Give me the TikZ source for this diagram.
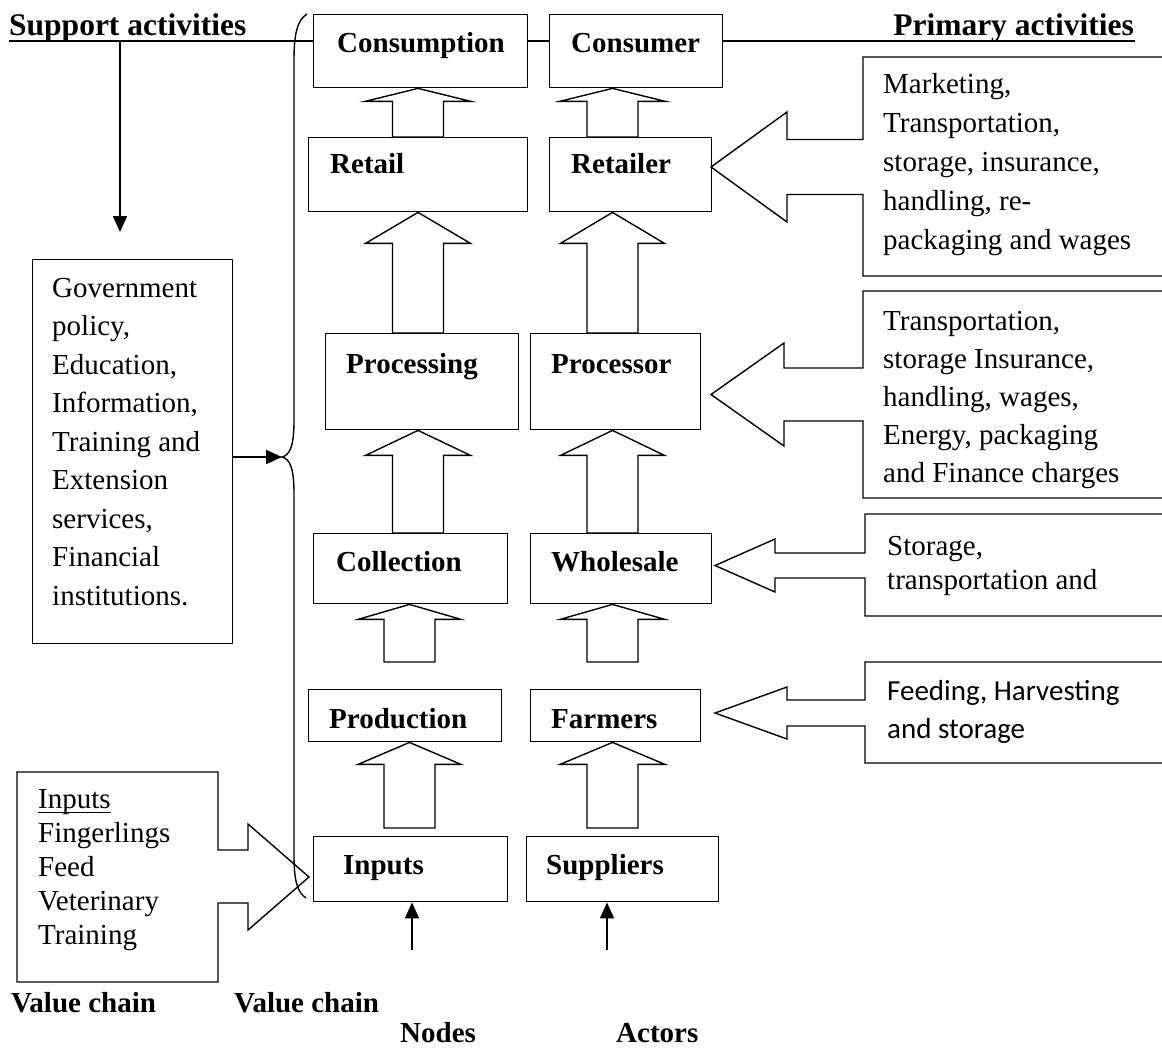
\documentclass[tikz,border=0pt]{standalone}
\usepackage{fontspec}
\setmainfont{Liberation Serif}
\newfontfamily\calfont{Carlito}
\usetikzlibrary{arrows.meta,calc}
\tikzset{
  box/.style={draw, line width=1.4pt, inner sep=0pt, anchor=north west},
  lbl/.style={font=\fontsize{29}{35}\selectfont\bfseries, anchor=base west, inner sep=0pt},
  head/.style={font=\fontsize{31.5}{36}\selectfont\bfseries, inner sep=0pt},
  txt/.style={font=\fontsize{29}{35}\selectfont, anchor=base west, inner sep=0pt},
  ctxt/.style={font=\fontsize{29}{35}\selectfont\calfont, anchor=base west, inner sep=0pt},
  blk/.style={draw, line width=1.4pt, line join=miter},
  arr/.style={line width=1.7pt, -{Triangle[length=16pt,width=14pt]}},
  topline/.style={line width=2.6pt},
}
% block arrow pointing up from lower node to upper node
\newcommand\blockup[7]{%
  \draw[blk] let \p1=(#1.south), \p2=(#2.north) in
    (#3pt,\y1) -- ({#3pt+#5pt},{\y1-#4pt}) -- ({#3pt+#6pt},{\y1-#4pt})
    -- ({#3pt+#6pt},{\y2+#7pt}) -- ({#3pt-#6pt},{\y2+#7pt})
    -- ({#3pt-#6pt},{\y1-#4pt}) -- ({#3pt-#5pt},{\y1-#4pt}) -- cycle;}
% callout box on the right with a block arrow pointing left
\newcommand\calloutleft[8]{%
  \draw[blk] (1162,#7) -- (#6,#7) -- (#6,{#2-#5}) -- (#3,{#2-#5}) -- (#3,{#2-#4})
    -- (#1,#2) -- (#3,{#2+#4}) -- (#3,{#2+#5}) -- (#6,{#2+#5}) -- (#6,#8) -- (1162,#8);}
\begin{document}
\begin{tikzpicture}[x=1pt,y=-1pt]
\useasboundingbox (0,0) rectangle (1162,1050);

% ---------- value chain node boxes ----------
\node[box, minimum width=214pt, minimum height=73pt] (cons) at (313,14) {};
\node[box, minimum width=219pt, minimum height=74pt] (retail) at (308,137) {};
\node[box, minimum width=193pt, minimum height=96pt] (proc) at (325,333) {};
\node[box, minimum width=194pt, minimum height=70pt] (coll) at (313,533) {};
\node[box, minimum width=193pt, minimum height=52pt] (prod) at (308,689) {};
\node[box, minimum width=194pt, minimum height=65pt] (inp) at (313,836) {};
% ---------- actor boxes ----------
\node[box, minimum width=173pt, minimum height=73pt] (consr) at (549,14) {};
\node[box, minimum width=162pt, minimum height=74pt] (retailer) at (549,137) {};
\node[box, minimum width=170pt, minimum height=96pt] (procr) at (530,333) {};
\node[box, minimum width=181pt, minimum height=70pt] (whole) at (530,533) {};
\node[box, minimum width=170pt, minimum height=52pt] (farm) at (530,689) {};
\node[box, minimum width=192pt, minimum height=65pt] (supp) at (526,836) {};

% ---------- box labels ----------
\node[lbl] (l-cons) at (337,52) {Consumption};
\node[lbl] (l-retail) at (330,173) {Retail};
\node[lbl] (l-proc) at (346,373) {Processing};
\node[lbl] (l-coll) at (336,571) {Collection};
\node[lbl] (l-prod) at (329,728) {Production};
\node[lbl] (l-inp) at (343,874) {Inputs};
\node[lbl] (l-consr) at (571,52) {Consumer};
\node[lbl] (l-retailer) at (571,173) {Retailer};
\node[lbl] (l-procr) at (551,373) {Processor};
\node[lbl] (l-whole) at (551,571) {Wholesale};
\node[lbl] (l-farm) at (551,728) {Farmers};
\node[lbl] (l-supp) at (546,874) {Suppliers};

% ---------- block arrows between rows ----------
\blockup{cons}{retail}{418}{13}{53}{25.5}{0}
\blockup{consr}{retailer}{612.5}{13}{53}{25.5}{0}
\blockup{retail}{proc}{418}{31}{52.5}{25.5}{0}
\blockup{retailer}{procr}{612.5}{31}{52}{25.5}{0}
\blockup{proc}{coll}{418}{25}{52.5}{25.5}{0}
\blockup{procr}{whole}{612.5}{25}{52}{25.5}{0}
\blockup{coll}{prod}{409.5}{15}{51.5}{25.5}{27}
\blockup{whole}{farm}{612.5}{15}{52.5}{25.5}{27}
\blockup{prod}{inp}{409.5}{22}{51.5}{25.5}{8}
\blockup{farm}{supp}{612.5}{22}{52.5}{25.5}{8}

% ---------- top line and headings ----------
\node[head, anchor=base west] (tsup) at (9,35) {Support activities};
\node[head, anchor=base east] (tprim) at (1134,35) {Primary activities};
\coordinate (sa) at (120,41);
\coordinate (tl0) at (9,41);
\coordinate (tl1) at (1135,41);
\draw[topline] (tl0) -- (tl0 -| cons.west);
\draw[topline] (tl0 -| cons.east) -- (tl0 -| consr.west);
\draw[topline] (tl0 -| consr.east) -- (tl1);
\coordinate (sb) at (120,232);
\draw[arr] (sa) -- (sb);

% ---------- support activities box ----------
\node[box, minimum width=200pt, minimum height=384pt] (gov) at (32,259) {};
\foreach \t [count=\i from 0] in {Government,{policy,},{Education,},{Information,},Training and,Extension,{services,},Financial,institutions.}
  \node[txt] (gov\i) at (52,{297+38.5*\i}) {\t};

% ---------- brace ----------
\coordinate (bt) at (282,457);
\coordinate (btop) at (307,14);
\coordinate (bbot) at (306,898);
\draw[line width=1.4pt] (btop) .. controls (297,20) and (294,35) .. (294,60)
  -- (294,420) .. controls (294,446) and (290,455) .. (bt)
  .. controls (290,459) and (294,468) .. (294,494)
  -- (294,855) .. controls (294,880) and (297,892) .. (bbot);
\draw[arr] (gov.east |- bt) -- (bt);

% ---------- right callouts ----------
\calloutleft{711}{167}{787}{55}{27.5}{863}{57}{276}
\foreach \t [count=\i from 0] in {{Marketing,},{Transportation,},{storage, insurance,},{handling, re-},packaging and wages}
  \node[txt] (rt\i) at (883,{93+39*\i}) {\t};

\calloutleft{711}{394.5}{784}{51.5}{26.5}{863}{291}{498}
\foreach \t [count=\i from 0] in {{Transportation,},{storage Insurance,},{handling, wages,},{Energy, packaging},and Finance charges}
  \node[txt] (pt\i) at (883,{330+38*\i}) {\t};

\calloutleft{715}{565.5}{775}{26.5}{12.5}{865}{514}{616}
\node[txt] (wt0) at (887,555) {Storage,};
\node[txt] (wt1) at (887,589) {transportation and};

\calloutleft{715}{713}{787}{26}{13}{865}{662}{763}
\node[ctxt] (ft0) at (887,700) {Feeding, Harvesting};
\node[ctxt] (ft1) at (887,738) {and storage};

% ---------- inputs callout on the left ----------
\draw[blk] (218,850) -- (218,772) -- (17,772) -- (17,982) -- (218,982) -- (218,903)
  -- (248,903) -- (248,930) -- (309,877) -- (248,824) -- (248,850) -- cycle;
\foreach \t [count=\i from 0] in {Inputs,Fingerlings,Feed,Veterinary,Training}
  \node[txt] (lin\i) at (38,{808+34*\i}) {\t};
\draw[line width=1.3pt] ([yshift=-4.5pt]lin0.base west) -- ([yshift=-4.5pt]lin0.base east);

% ---------- bottom arrows ----------
\coordinate (ia) at (412,950);
\coordinate (sua) at (607,950);
\draw[arr] (ia) -- (ia |- inp.south);
\draw[arr] (sua) -- (sua |- supp.south);

% ---------- bottom labels ----------
\node[lbl] (vc1) at (11,1012) {Value chain};
\node[lbl] (vc2) at (234,1012) {Value chain};
\node[lbl] (nodes) at (400,1042) {Nodes};
\node[lbl] (actors) at (616,1042) {Actors};
\end{tikzpicture}
\end{document}
